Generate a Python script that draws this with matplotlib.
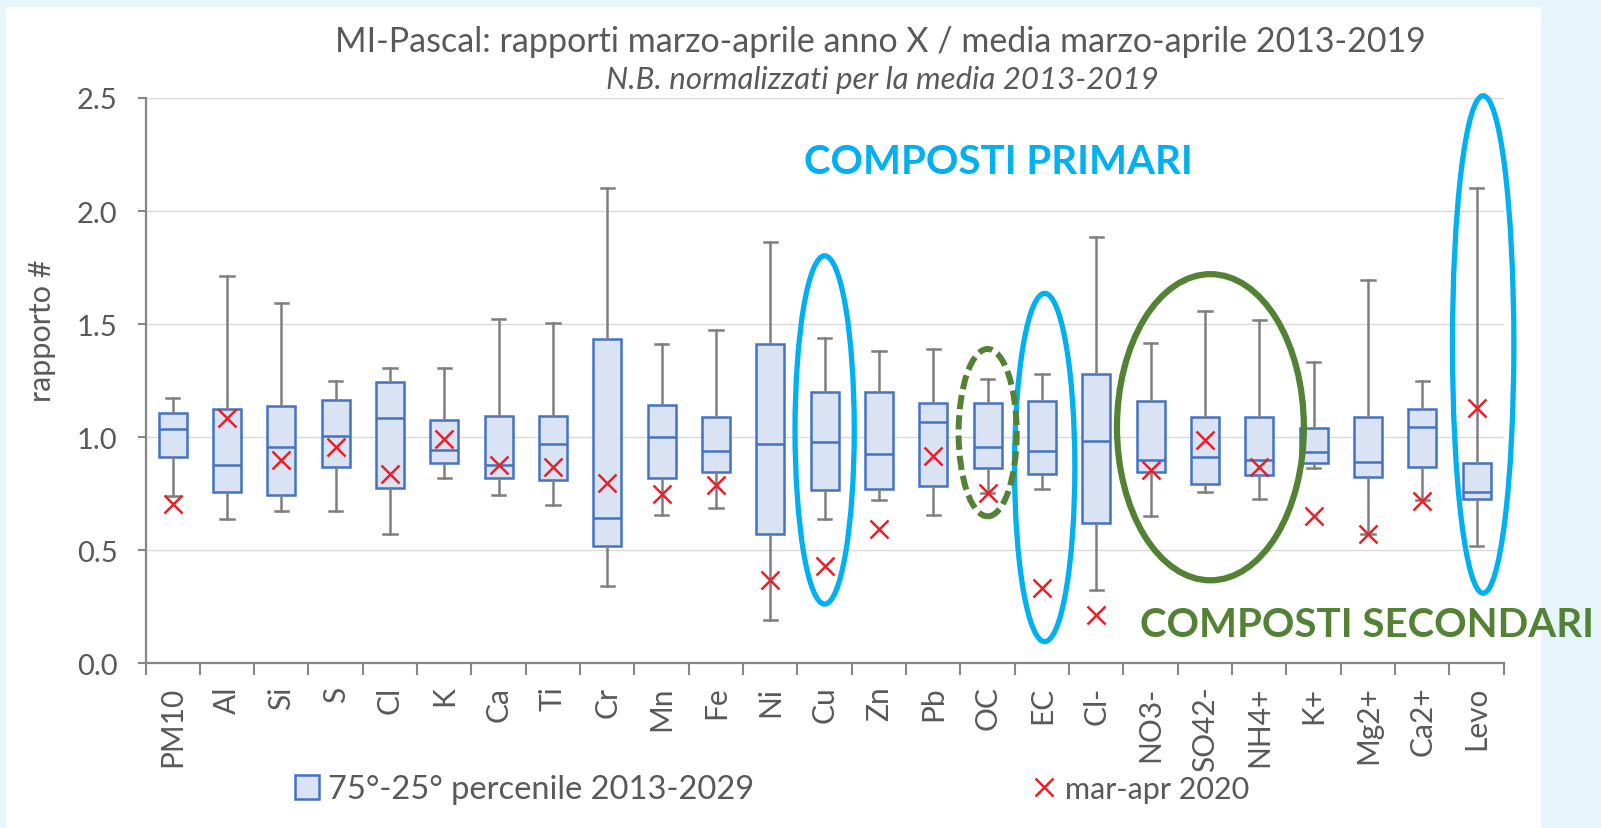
import matplotlib
matplotlib.use("Agg")
import matplotlib.pyplot as plt
from matplotlib.patches import Ellipse, Rectangle
from matplotlib.lines import Line2D

plt.rcParams['font.family'] = ['Lato', 'DejaVu Sans']

# categories and box statistics (ratios)
species = ['PM10', 'Al', 'Si', 'S', 'Cl', 'K', 'Ca', 'Ti', 'Cr', 'Mn', 'Fe', 'Ni', 'Cu',
           'Zn', 'Pb', 'OC', 'EC', 'Cl-', 'NO3-', 'SO42-', 'NH4+', 'K+', 'Mg2+', 'Ca2+', 'Levo']
whis_hi = [1.175, 1.713, 1.594, 1.247, 1.307, 1.307, 1.523, 1.505, 2.102, 1.413, 1.474, 1.862, 1.439,
           1.381, 1.390, 1.256, 1.278, 1.886, 1.417, 1.559, 1.518, 1.332, 1.693, 1.247, 2.100]
q3 = [1.109, 1.126, 1.137, 1.166, 1.242, 1.075, 1.095, 1.095, 1.434, 1.144, 1.088, 1.413, 1.200,
      1.200, 1.151, 1.151, 1.159, 1.278, 1.158, 1.088, 1.088, 1.041, 1.088, 1.126, 0.884]
median = [1.034, 0.878, 0.956, 1.005, 1.083, 0.943, 0.878, 0.968, 0.643, 0.999, 0.941, 0.968, 0.977,
          0.926, 1.066, 0.955, 0.941, 0.985, 0.897, 0.914, 0.897, 0.934, 0.892, 1.044, 0.757]
q1 = [0.912, 0.757, 0.743, 0.870, 0.777, 0.884, 0.819, 0.811, 0.520, 0.821, 0.848, 0.574, 0.765,
      0.770, 0.785, 0.862, 0.836, 0.621, 0.846, 0.794, 0.833, 0.884, 0.824, 0.870, 0.728]
whis_lo = [0.740, 0.638, 0.672, 0.672, 0.574, 0.819, 0.743, 0.702, 0.342, 0.658, 0.689, 0.190, 0.638,
           0.723, 0.655, 0.752, 0.770, 0.322, 0.652, 0.757, 0.728, 0.863, 0.570, 0.723, 0.520]
# mar-apr 2020
y2020 = [0.706, 1.087, 0.900, 0.955, 0.836, 0.990, 0.875, 0.867, 0.799, 0.748, 0.790, 0.367, 0.430,
         0.592, 0.917, 0.752, 0.333, 0.215, 0.855, 0.988, 0.870, 0.650, 0.574, 0.719, 1.129]

# highlight ellipses: (center category, center value, width in categories, height, colour, style, lw)
highlights = [
    (12.0, 1.032, 1.09, 1.54, '#00B0F0', 'solid', 3.8),
    (16.05, 0.866, 1.11, 1.54, '#00B0F0', 'solid', 3.8),
    (24.12, 1.41, 1.13, 2.20, '#00B0F0', 'solid', 3.8),
    (15.0, 1.02, 1.07, 0.74, '#548235', (0, (2.4, 1.0)), 4.3),
    (19.1, 1.044, 3.44, 1.354, '#548235', 'solid', 4.5),
]

W, H = 1601, 829
fig = plt.figure(figsize=(W / 100, H / 100), dpi=100)
fig.patch.set_facecolor('#E6F4FB')
fig.add_artist(Rectangle((6 / W, 0), (1541 - 6) / W, 1 - 8 / H, transform=fig.transFigure,
                         facecolor='white', edgecolor='none', zorder=0))

ax = fig.add_axes([145.5 / W, 1 - 664.3 / H, (1503.8 - 145.5) / W, (664.3 - 99) / H])
ax.set_facecolor('white')

stats = []
for i in range(len(species)):
    stats.append({'label': species[i], 'whislo': whis_lo[i], 'q1': q1[i], 'med': median[i],
                  'q3': q3[i], 'whishi': whis_hi[i], 'fliers': []})
pos = list(range(len(species)))
ax.bxp(stats, positions=pos, widths=0.52, capwidths=0.25, patch_artist=True, showfliers=False,
       boxprops=dict(facecolor='#DAE3F3', edgecolor='#4472C4', linewidth=1.8),
       medianprops=dict(color='#4472C4', linewidth=1.8),
       whiskerprops=dict(color='#7F7F7F', linewidth=1.8),
       capprops=dict(color='#7F7F7F', linewidth=1.8), zorder=3)
ax.plot(pos, y2020, 'x', color='#E8202A', ms=13.5, mew=1.8, zorder=4, clip_on=False)

for cx, cy, ew, eh, col, ls, lw in highlights:
    ax.add_patch(Ellipse((cx, cy), ew, eh, fill=False, edgecolor=col, linewidth=lw,
                         linestyle=ls, zorder=5, clip_on=False))

ax.set_xlim(-0.5, len(species) - 0.5)
ax.set_ylim(0, 2.5)
ax.set_yticks([0, 0.5, 1.0, 1.5, 2.0, 2.5])
ax.set_yticklabels(['0.0', '0.5', '1.0', '1.5', '2.0', '2.5'])
ax.set_xticks(pos)
ax.set_xticklabels(species, rotation=90)
ax.set_xticks([p - 0.5 for p in pos] + [len(species) - 0.5], minor=True)
ax.tick_params(axis='x', which='major', length=0, pad=16, labelsize=21.5, labelcolor='#595959')
ax.tick_params(axis='x', which='minor', length=8.5, width=1.5, color='#868686')
ax.tick_params(axis='y', length=6, width=1.5, color='#868686', pad=14, labelsize=21,
               labelcolor='#595959')
ax.grid(axis='y', color='#D9D9D9', linewidth=1)
ax.set_axisbelow(True)
for s in ['top', 'right']:
    ax.spines[s].set_visible(False)
for s in ['left', 'bottom']:
    ax.spines[s].set_color('#868686')
    ax.spines[s].set_linewidth(1.6)
ax.set_ylabel('rapporto #', fontsize=22, color='#595959')
ax.yaxis.set_label_coords(-0.066, 0.59)

fig.text(880 / W, 1 - 42 / H, 'MI-Pascal: rapporti marzo-aprile anno X / media marzo-aprile 2013-2019',
         ha='center', va='center', fontsize=24.5, color='#595959')
fig.text(882 / W, 1 - 80 / H, 'N.B. normalizzati per la media 2013-2019', ha='center', va='center',
         fontsize=22.5, color='#595959', style='italic')

fig.text(998 / W, 1 - 163 / H, 'COMPOSTI PRIMARI', ha='center', va='center', fontsize=29,
         color='#00B0F0', fontweight='bold')
fig.text(1367 / W, 1 - 626 / H, 'COMPOSTI SECONDARI', ha='center', va='center', fontsize=29,
         color='#548235', fontweight='bold', zorder=10)

# legend: two entries placed separately, like the original
box_handle = Rectangle((0, 0), 1, 1, facecolor='#DAE3F3', edgecolor='#4472C4', linewidth=1.8)
x_handle = Line2D([], [], linestyle='none', marker='x', color='#E8202A', ms=13.5, mew=1.8)
leg1 = fig.legend([box_handle], ['75°-25° percenile 2013-2029'], loc='center left',
                  bbox_to_anchor=(295 / W, 1 - 790 / H), frameon=False, borderpad=0,
                  borderaxespad=0, fontsize=23.5, labelcolor='#595959', handlelength=0.75,
                  handleheight=0.75, handletextpad=0.25)
leg2 = fig.legend([x_handle], ['mar-apr 2020'], loc='center left',
                  bbox_to_anchor=(1033 / W, 1 - 790 / H), frameon=False, borderpad=0,
                  borderaxespad=0, fontsize=22, labelcolor='#595959', handlelength=0.75,
                  handletextpad=0.3)

fig.savefig('out.png', dpi=100)
